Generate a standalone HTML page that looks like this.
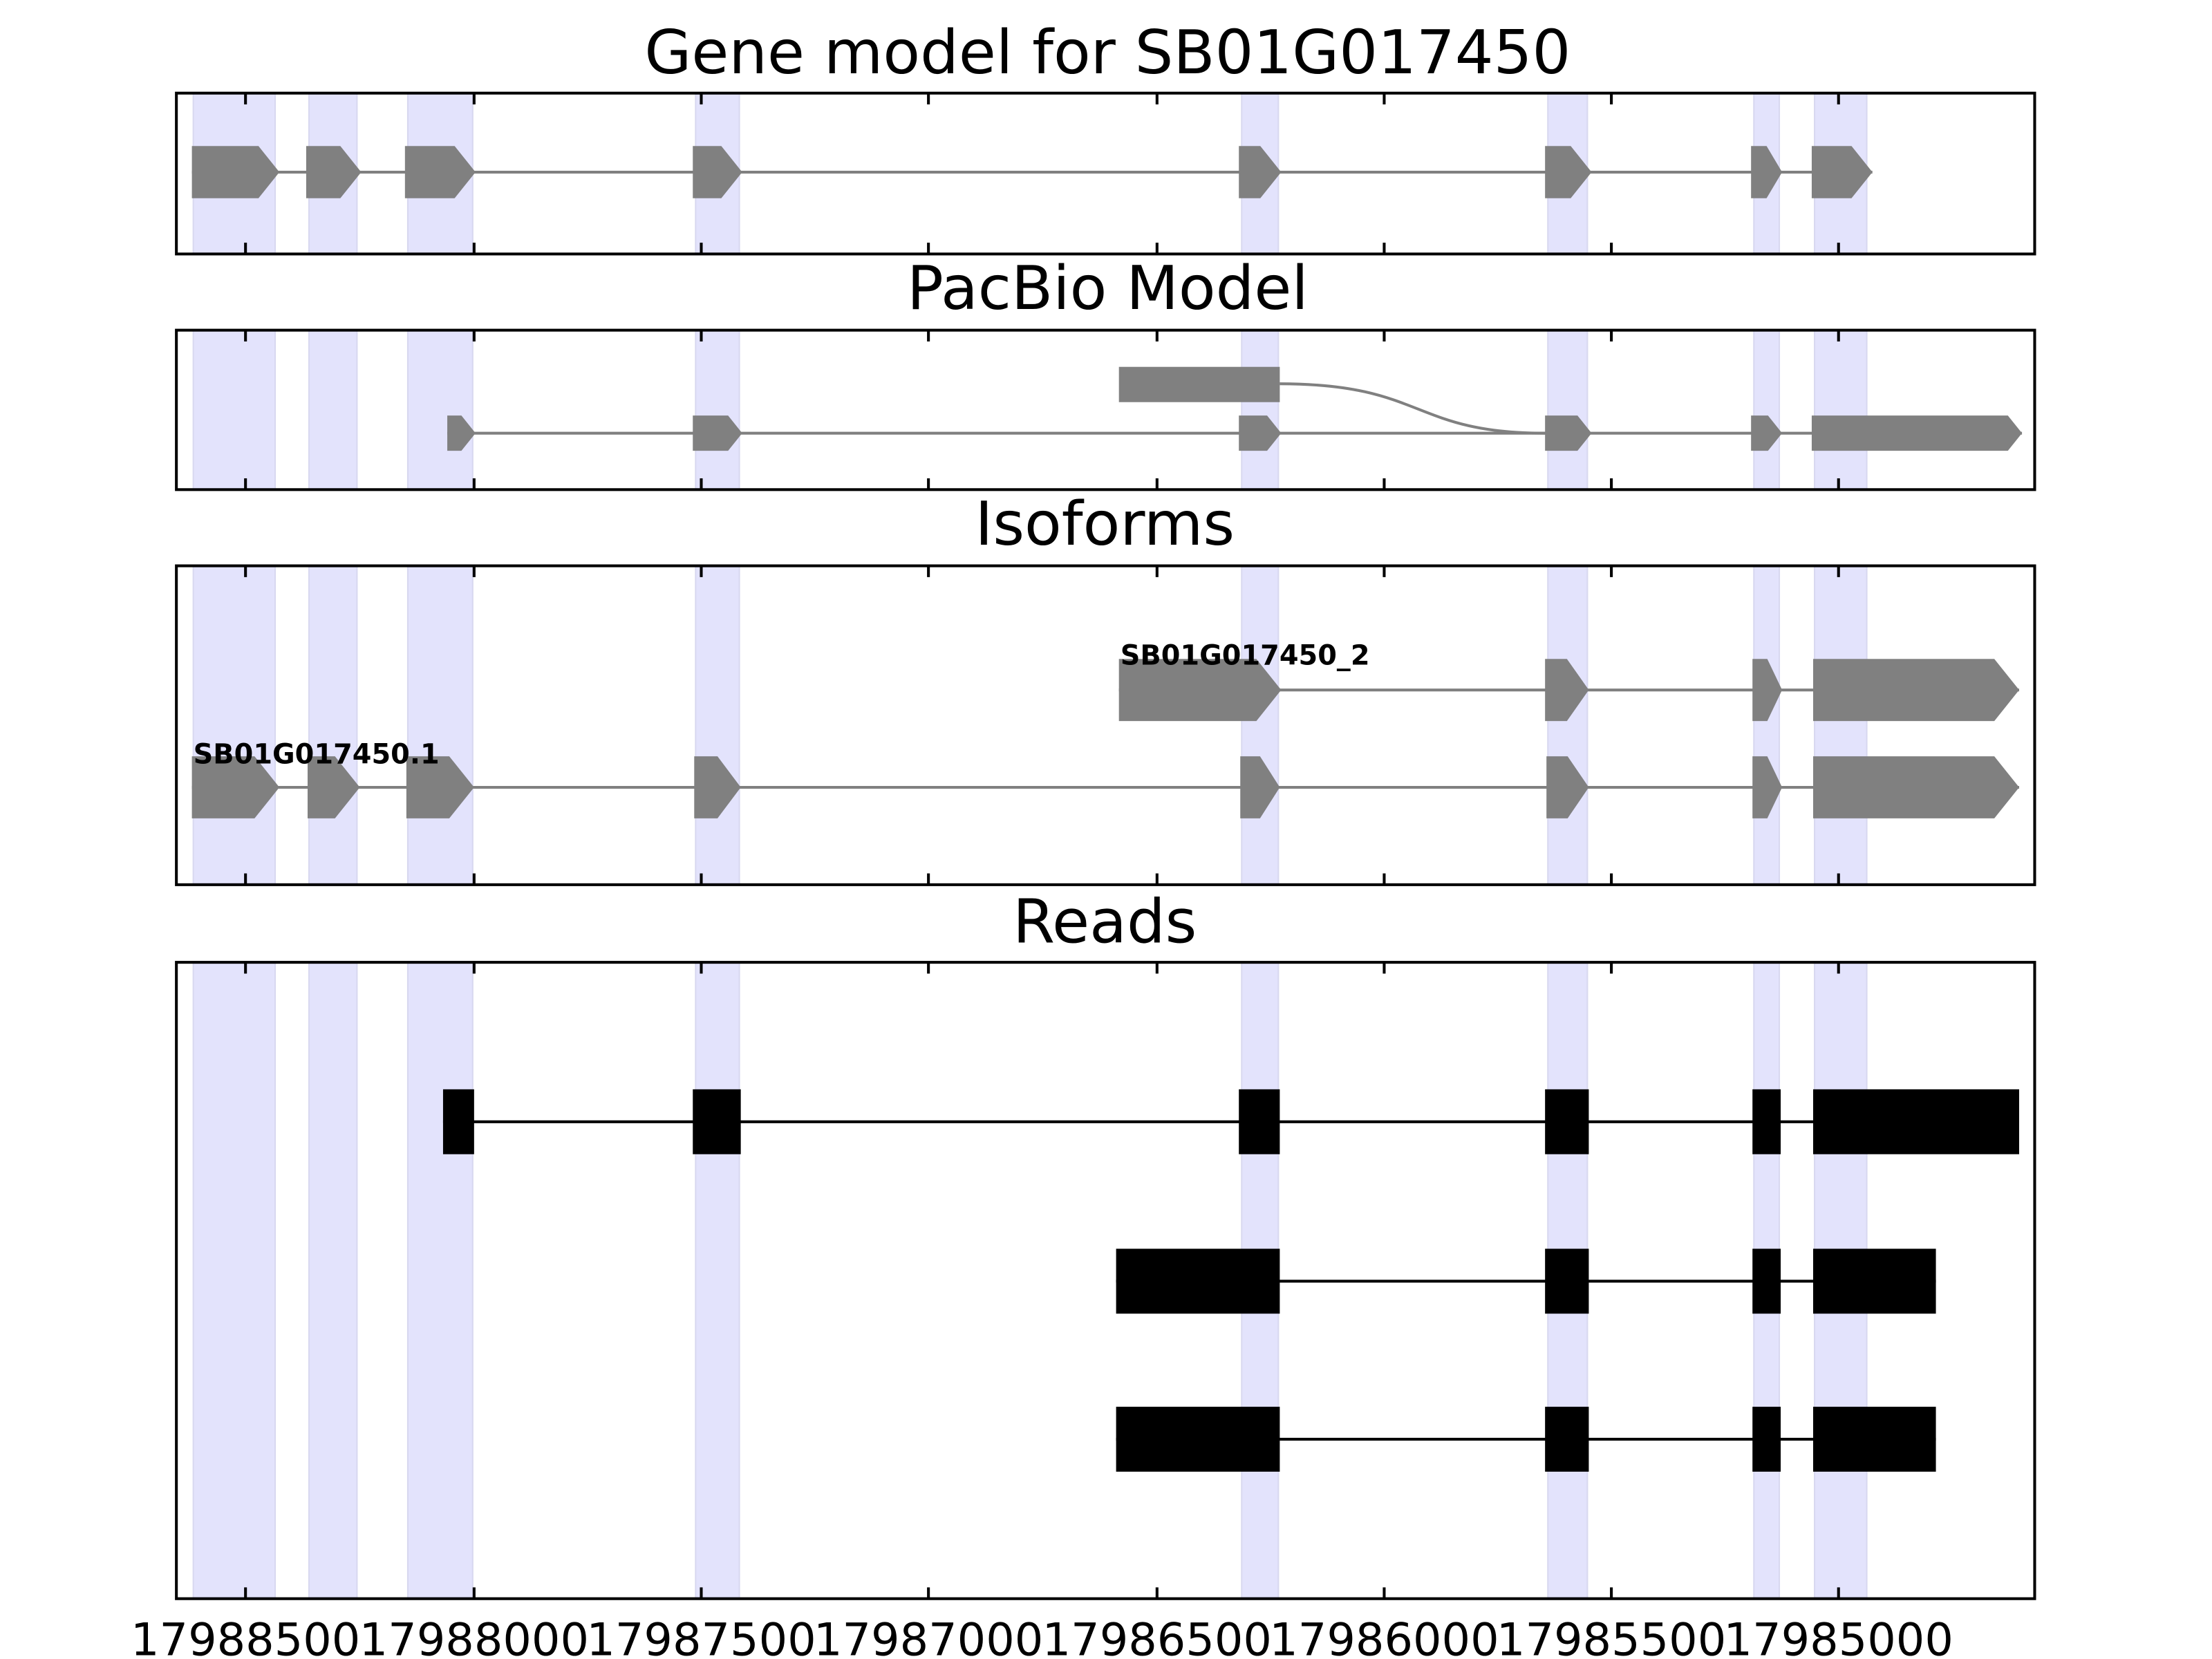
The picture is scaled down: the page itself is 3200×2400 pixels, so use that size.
<!DOCTYPE html>
<html><head><style>html,body{margin:0;padding:0;background:#fff}svg{display:block}</style></head>
<body>
<svg id="s" xmlns="http://www.w3.org/2000/svg" width="3200" height="2400" viewBox="0 0 1552 1164" font-family="DejaVu Sans, Liberation Sans, sans-serif">
<rect width="1552" height="1164" fill="#fff"/>
<g transform="scale(0.990)">
<g id="bands"></g>
<g id="feat"></g>
<g id="axes" fill="none" stroke="#000" stroke-width="2"></g>
<g font-size="43" text-anchor="middle" fill="#000">
<text x="785" y="52">Gene model for SB01G017450</text>
<text x="785" y="219">PacBio Model</text>
<text x="783" y="386">Isoforms</text>
<text x="783" y="668">Reads</text>
</g>
<g font-size="19.5" font-weight="bold" fill="#000">
<text x="794" y="471">SB01G017450_2</text>
<text x="137" y="541">SB01G017450.1</text>
</g>
<g font-size="32" text-anchor="middle" fill="#000">
<text x="174" y="1173">17988500</text>
<text x="336" y="1173">17988000</text>
<text x="497" y="1173">17987500</text>
<text x="658" y="1173">17987000</text>
<text x="820" y="1173">17986500</text>
<text x="981" y="1173">17986000</text>
<text x="1142" y="1173">17985500</text>
<text x="1303" y="1173">17985000</text>
</g>
</g>
</svg>
<script>
const NS="http://www.w3.org/2000/svg";
function el(p,t,a){const e=document.createElementNS(NS,t);for(const k in a)e.setAttribute(k,a[k]);document.getElementById(p).appendChild(e);return e;}
const panels=[[66,180],[234,347],[401,627],[682,1133]];
const bands=[[137,195],[219,253],[289,335],[493,524],[880,906],[1097,1125],[1243,1261],[1286,1323]];
const ticks=[174,336,497,658,820,981,1142,1303];
panels.forEach(([t,b])=>{
 bands.forEach(([a,c])=>el("bands","rect",{x:a,y:t,width:c-a,height:b-t,fill:"#e3e3fc",stroke:"#d8d8f0","stroke-width":1}));
 el("axes","rect",{x:125,y:t,width:1317,height:b-t});
 ticks.forEach(x=>{el("axes","line",{x1:x,y1:t,x2:x,y2:t+8});el("axes","line",{x1:x,y1:b,x2:x,y2:b-8});});
});
function arrowRow(cy,h,ex,col){
 el("feat","line",{x1:ex[0][0],y1:cy,x2:ex[ex.length-1][1],y2:cy,stroke:col,"stroke-width":2});
 ex.forEach(([a,b])=>{const tip=Math.min(h*0.4,(b-a)*0.5);
  el("feat","polygon",{points:`${a},${cy-h/2} ${b-tip},${cy-h/2} ${b},${cy} ${b-tip},${cy+h/2} ${a},${cy+h/2}`,fill:col});});
}
function boxRow(cy,h,ex){
 el("feat","line",{x1:ex[0][0],y1:cy,x2:ex[ex.length-1][1],y2:cy,stroke:"#000","stroke-width":2});
 ex.forEach(([a,b])=>el("feat","rect",{x:a,y:cy-h/2,width:b-a,height:h,fill:"#000"}));
}
const G="#808080";
arrowRow(122,37,[[136,198],[217,256],[287,337],[491,526],[878,908],[1095,1128],[1241,1263],[1284,1327]],G);
arrowRow(307,25,[[317,337],[491,526],[878,908],[1095,1128],[1241,1263],[1284,1433]],G);
el("feat","rect",{x:793,y:260,width:114,height:25,fill:G});
el("feat","path",{d:"M907,272 C1010,272 1000,307 1095,307",stroke:G,"stroke-width":2,fill:"none"});
arrowRow(489,44,[[793,908],[1095,1126],[1242,1263],[1285,1431]],G);
arrowRow(558,44,[[136,198],[218,255],[288,336],[492,525],[879,907],[1096,1126],[1242,1263],[1285,1431]],G);
boxRow(795,46,[[314,336],[491,525],[878,907],[1095,1126],[1242,1262],[1285,1431]]);
boxRow(908,46,[[791,907],[1095,1126],[1242,1262],[1285,1372]]);
boxRow(1020,46,[[791,907],[1095,1126],[1242,1262],[1285,1372]]);
</script>
</body></html>
